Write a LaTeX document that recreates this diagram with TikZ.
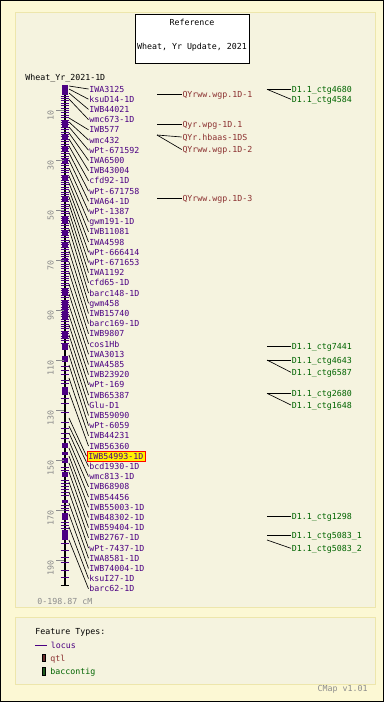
\documentclass[tikz,border=0pt]{standalone}
\usepackage{fontspec}
\setmonofont{DejaVu Sans Mono}
\usepackage{tikz}
\usetikzlibrary{positioning}
\definecolor{CMapPage}{HTML}{FCF8D4}
\definecolor{CMapPanel}{HTML}{F5F3DF}
\definecolor{CMapEdge}{HTML}{EDE6AC}
\definecolor{CMapLocus}{HTML}{4B0082}
\definecolor{CMapQtl}{HTML}{8B3030}
\definecolor{CMapQtlBox}{HTML}{6B2F2F}
\definecolor{CMapCtg}{HTML}{006400}
\definecolor{CMapCtgBox}{HTML}{1E5A1E}
\definecolor{CMapGray}{HTML}{8C8C8C}
\tikzset{
  maptext/.style={font=\fontsize{8.3}{9}\selectfont\ttfamily,inner sep=0.6pt,
    text height=6pt,text depth=0pt},
  locus/.style={maptext,text=CMapLocus,anchor=west},
  qtl/.style={maptext,text=CMapQtl,anchor=west},
  ctg/.style={maptext,text=CMapCtg,anchor=west},
  hilite/.style={fill=yellow,draw=red,line width=0.7pt,inner xsep=1.6pt,inner ysep=2.2pt},
  scalelbl/.style={maptext,text=CMapGray,rotate=90,anchor=east},
  panelbox/.style={fill=CMapPanel,draw=CMapEdge,line width=1pt},
  link/.style={black,line width=0.65pt},
  lociTick/.style={CMapLocus,line width=0.9pt},
  scaleTick/.style={CMapGray,line width=0.7pt}
}

\begin{document}
\begin{tikzpicture}[x=1pt,y=-1pt]
  \path[use as bounding box] (0,0) rectangle (384,702);
  \fill[CMapPage,draw=black,line width=1pt] (0.5,0.5) rectangle (383.5,701.5);
  \draw[panelbox] (15,12) rectangle (375,607);
  \draw[panelbox] (15,617) rectangle (375,684);

  \node[draw=black,fill=white,line width=0.7pt,minimum width=114pt,minimum height=49pt,
    inner sep=0pt] (titlebox) at (192,38.5) {};
  \node[maptext] (reftitle) at (192,22) {Reference};
  \node[maptext] (mapset) at (192,46) {Wheat, Yr Update, 2021};
  \node[maptext,anchor=west] (mapname) at (24.5,77) {Wheat\_Yr\_2021-1D};

  \draw[black,line width=2pt] (65,85) -- (65,585);
  \foreach \a/\b in {85/95,121/127,135/140,147/152,158/163,175/180,197/202,217/223,
    230/235,243/248,258/262,288/296,300/320,332/338,343/350,356/362,387/395,
    443/448,452/455,458/463,472/477,500/503,513/520,530/540}{
    \fill[CMapLocus] (61.5,\a) rectangle (67.5,\b);
  }
  \foreach \y in {96,98.4,...,345}{
    \draw[lociTick] (60.5,\y) -- (68.5,\y);
  }
  \foreach \y in {366,370,374,380,383,398,403,412,422,428,433,438,467,470,480,483,486,
    489,492,495,505,508,510,522,525,528,543,550,557,562,570,577}{
    \draw[lociTick] (60.5,\y) -- (68.5,\y);
  }
  \draw[black,line width=1pt] (60.5,585) -- (69,585);

  \foreach \c in {10,30,...,190}{
    \draw[scaleTick] (56,{85+2.5*\c}) -- (64,{85+2.5*\c});
    \node[scalelbl] (s\c) at (50.5,{85+2.5*\c}) {\c};
  }
  \node[maptext,text=CMapGray,anchor=west] (range) at (36.5,601) {0-198.87 cM};

  \foreach \i/\ym/\name in {0/86/IWA3125,1/89/ksuD14-1D,2/93/IWB44021,3/99/wmc673-1D,
    4/118/IWB577,5/122/wmc432,6/127/wPt-671592,7/133/IWA6500,8/139/IWB43004,
    9/146/cfd92-1D,10/153/wPt-671758,11/160/IWA64-1D,12/168/wPt-1387,
    13/176/gwm191-1D,14/183/IWB11081,15/190/IWA4598,16/197/wPt-666414,
    17/204/wPt-671653,18/212/IWA1192,19/220/cfd65-1D,20/229/barc148-1D,
    21/240/gwm458,22/251/IWB15740,23/262/barc169-1D,24/272/IWB9807,
    25/284/cos1Hb,26/294/IWA3013,27/305/IWA4585,28/315/IWB23920,29/325/wPt-169,
    30/335/IWB65387,31/345/Glu-D1,32/355/IWB59090,33/365/wPt-6059,
    34/378/IWB44231,35/392/IWB56360,37/426/bcd1930-1D,38/433/wmc813-1D,
    39/441/IWB68908,40/448/IWB54456,41/456/IWB55003-1D,42/463/IWB48302-1D,
    43/472/IWB59404-1D,44/482/IWB2767-1D,45/492/wPt-7437-1D,46/503/IWA8581-1D,
    47/514/IWB74004-1D,48/527/ksuI27-1D,49/540/barc62-1D}{
    \coordinate (m\i) at (69,\ym);
    \node[locus] (l\i) at (88.5,{89+10.2*\i}) {\name};
    \draw[link] (m\i) -- (l\i.west);
  }
  \coordinate (m36) at (69,418);
  \node[locus,hilite] (l36) at (86.5,456.2) {IWB54993-1D};
  \draw[link] (m36) -- (l36.west);

  \coordinate (qa) at (157,94);
  \node[qtl] (q1) at (181.7,94) {QYrww.wgp.1D-1};
  \coordinate (qb) at (157,124);
  \node[qtl] (q2) at (181.7,124) {Qyr.wpg-1D.1};
  \coordinate (qc) at (157,135);
  \node[qtl] (q3) at (181.7,137) {QYr.hbaas-1DS};
  \node[qtl] (q4) at (181.7,149.5) {QYrww.wgp.1D-2};
  \coordinate (qd) at (157,198.5);
  \node[qtl] (q5) at (181.7,198.5) {QYrww.wgp.1D-3};
  \draw[link] (qa) -- (q1.west);
  \draw[link] (qb) -- (q2.west);
  \draw[link] (qc) -- (q3.west);
  \draw[link] (qc) -- (q4.west);
  \draw[link] (qd) -- (q5.west);

  \coordinate (ca) at (267,89.3);
  \node[ctg] (c1) at (291,89.3) {D1.1\_ctg4680};
  \node[ctg] (c2) at (291,99.3) {D1.1\_ctg4584};
  \coordinate (cb) at (267,346.7);
  \node[ctg] (c3) at (291,346.7) {D1.1\_ctg7441};
  \coordinate (cc) at (267,360);
  \node[ctg] (c4) at (291,360) {D1.1\_ctg4643};
  \node[ctg] (c5) at (291,372.3) {D1.1\_ctg6587};
  \coordinate (cd) at (267,393.3);
  \node[ctg] (c6) at (291,393.3) {D1.1\_ctg2680};
  \node[ctg] (c7) at (291,405) {D1.1\_ctg1648};
  \coordinate (ce) at (267,516.7);
  \node[ctg] (c8) at (291,516.7) {D1.1\_ctg1298};
  \coordinate (cf) at (267,535.7);
  \node[ctg] (c9) at (291,535.7) {D1.1\_ctg5083\_1};
  \coordinate (cg) at (267,540);
  \node[ctg] (c10) at (291,548.3) {D1.1\_ctg5083\_2};
  \foreach \s/\t in {ca/c1,ca/c2,cb/c3,cc/c4,cc/c5,cd/c6,cd/c7,ce/c8,cf/c9,cg/c10}{
    \draw[link] (\s) -- (\t.west);
  }

  \node[maptext,anchor=west] (ftypes) at (34.5,631) {Feature Types:};
  \coordinate (lgline) at (35,645);
  \node[locus] (lglocus) at (50,645) {locus};
  \draw[CMapLocus,line width=0.8pt] (lgline) -- ([xshift=-3pt]lglocus.west);
  \draw[black,fill=CMapQtlBox,line width=0.5pt] (42.5,654.5) rectangle (45.5,661.5);
  \node[qtl] (lgqtl) at (49.5,658) {qtl};
  \draw[black,fill=CMapCtgBox,line width=0.5pt] (42.5,667) rectangle (45.5,675);
  \node[ctg] (lgctg) at (49.5,671) {baccontig};
  \node[maptext,text=CMapGray,anchor=east] (version) at (368.5,688) {CMap v1.01};
\end{tikzpicture}
\end{document}
